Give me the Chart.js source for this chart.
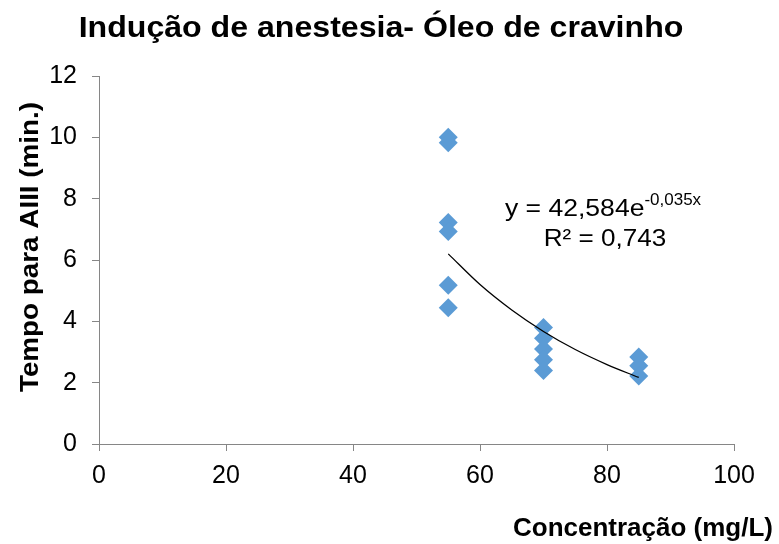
<!DOCTYPE html>
<html>
<head>
<meta charset="utf-8">
<script src="https://cdn.jsdelivr.net/npm/chart.js@4"></script>
<style>
  html, body { margin: 0; padding: 0; background: #fff; }
</style>
</head>
<body>
<canvas id="grafico" width="779" height="544"></canvas>
<script>
// dados
const concentracoes = [55, 55, 55, 55, 55, 55, 70, 70, 70, 70, 70, 85, 85, 85];
const tempos = [10.0, 9.82, 7.22, 6.93, 5.18, 4.44, 3.8, 3.45, 3.1, 2.75, 2.4, 2.84, 2.55, 2.22];
// linha de tendência (exponencial)
const tendenciaX = [55, 60, 65, 70, 75, 80, 85];
const tendenciaY = [6.2, 5.2, 4.37, 3.67, 3.08, 2.59, 2.17];
const ticksX = [0, 20, 40, 60, 80, 100];
const ticksY = [0, 2, 4, 6, 8, 10, 12];

const titulo = "Indução de anestesia- Óleo de cravinho";
const tituloX = "Concentração (mg/L)";
const tituloY = "Tempo para AIII (min.)";
const equacao = "y = 42,584e";
const expoente = "-0,035x";
const r2 = "R² = 0,743";

const fonte = "'Liberation Sans', Arial, sans-serif";
const cinza = "#868686";

// escreve texto com esticamento horizontal opcional
function escreve(ctx, texto, x, y, font, sx, align, rot) {
    ctx.save();
    ctx.font = font;
    ctx.textAlign = align;
    ctx.textBaseline = "alphabetic";
    ctx.translate(x, y);
    if (rot) ctx.rotate(rot);
    ctx.scale(sx, 1);
    ctx.fillText(texto, 0, 0);
    ctx.restore();
}

const textos = {
    id: "textos",
    afterDraw(chart) {
        const ctx = chart.ctx;
        ctx.save();
        ctx.fillStyle = "#000";

        escreve(ctx, titulo, 381, 37, "bold 30px " + fonte, 1.07, "center");
        escreve(ctx, tituloX, 773, 536, "bold 26px " + fonte, 1, "right");
        escreve(ctx, tituloY, 38, 247, "bold 26px " + fonte, 1.07, "center", -Math.PI / 2);

        // equação da tendência
        const fEq = "23.5px " + fonte, fExp = "17px " + fonte, sEq = 1.13;
        ctx.font = fEq;
        const w1 = ctx.measureText(equacao).width * sEq;
        ctx.font = fExp;
        const w2 = ctx.measureText(expoente).width;
        const x0 = 603 - (w1 + w2) / 2;
        escreve(ctx, equacao, x0, 216, fEq, sEq, "left");
        escreve(ctx, expoente, x0 + w1, 205, fExp, 1, "left");
        escreve(ctx, r2, 605, 246, fEq, 1.11, "center");
        ctx.restore();
    }
};

const pontos = concentracoes.map((c, i) => ({ x: c, y: tempos[i] }));
const tendencia = tendenciaX.map((c, i) => ({ x: c, y: tendenciaY[i] }));

new Chart(document.getElementById("grafico"), {
    type: "scatter",
    data: {
        datasets: [
            {
                label: "Tendência",
                data: tendencia,
                showLine: true,
                borderColor: "#000",
                borderWidth: 1.3,
                pointRadius: 0,
                cubicInterpolationMode: "monotone"
            },
            {
                label: "Tempo",
                data: pontos,
                pointStyle: "rectRot",
                pointRadius: 9.5,
                pointHoverRadius: 9.5,
                backgroundColor: "#5B9BD5",
                borderColor: "#5B9BD5",
                borderWidth: 0
            }
        ]
    },
    plugins: [textos],
    options: {
        responsive: false,
        animation: false,
        layout: { padding: { top: 76, right: 45, left: 0, bottom: 0 } },
        plugins: {
            legend: { display: false },
            tooltip: { enabled: false }
        },
        scales: {
            x: {
                type: "linear",
                min: ticksX[0],
                max: ticksX[ticksX.length - 1],
                ticks: {
                    stepSize: ticksX[1] - ticksX[0],
                    color: "#000",
                    padding: 10,
                    font: { size: 25, family: fonte }
                },
                grid: { drawOnChartArea: false, tickLength: 7, color: cinza },
                border: { color: cinza },
                afterFit: s => { s.height = 100; }
            },
            y: {
                min: ticksY[0],
                max: ticksY[ticksY.length - 1],
                ticks: {
                    stepSize: ticksY[1] - ticksY[0],
                    color: "#000",
                    padding: 15,
                    font: { size: 25, family: fonte }
                },
                grid: { drawOnChartArea: false, tickLength: 7, color: cinza },
                border: { color: cinza },
                afterFit: s => { s.width = 99; }
            }
        }
    }
});
</script>
</body>
</html>
